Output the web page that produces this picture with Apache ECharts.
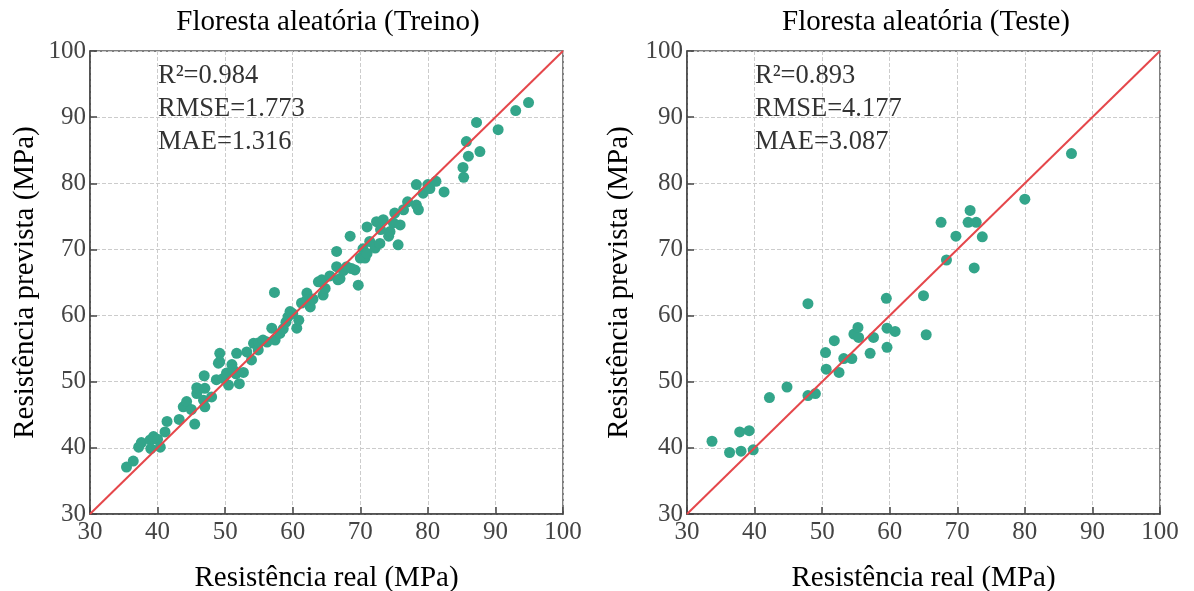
<!DOCTYPE html>
<html>
<head>
<meta charset="utf-8">
<script src="https://cdn.jsdelivr.net/npm/echarts@6/dist/echarts.min.js"></script>
<style>
  html, body { margin: 0; padding: 0; background: #fff; }
  #chart { width: 1194px; height: 591px; }
</style>
</head>
<body>
<div id="chart"></div>
<script>
// 数据：训练集 [real, predicted]
const trainData = [
  [35.4, 37.1], [36.4, 38.0], [37.2, 40.1], [37.6, 40.8], [38.9, 41.2], [39.4, 41.7],
  [40.0, 41.3], [40.4, 40.1], [39.0, 39.9], [41.1, 42.4], [41.4, 44.0], [43.2, 44.3],
  [43.8, 46.2], [44.3, 47.0], [45.0, 45.8], [45.5, 43.6], [45.8, 48.2], [45.8, 49.1],
  [46.8, 47.2], [47.0, 46.2], [47.0, 49.0], [46.9, 50.9], [48.0, 47.7], [48.7, 50.3],
  [49.0, 52.8], [49.7, 50.5], [50.2, 51.3], [50.5, 49.5], [51.0, 52.6], [51.2, 51.8],
  [51.6, 51.2], [52.1, 49.7], [52.7, 51.4], [53.9, 53.3], [49.2, 54.3], [49.2, 53.0],
  [51.7, 54.3], [53.2, 54.5], [54.2, 55.8], [54.9, 54.8], [55.0, 55.9], [55.6, 56.3],
  [56.2, 56.0], [56.9, 58.1], [57.4, 56.3], [58.1, 57.3], [57.3, 63.5], [58.6, 58.0],
  [59.0, 59.0], [59.3, 59.8], [59.6, 60.6], [60.0, 60.3], [60.6, 58.1], [60.9, 59.3],
  [61.3, 61.9], [62.6, 61.3], [62.1, 63.4], [62.1, 62.4], [63.0, 62.5], [63.8, 65.1],
  [64.3, 65.4], [64.5, 63.1], [64.8, 64.1], [65.5, 66.0], [66.5, 67.4], [66.5, 69.7],
  [66.7, 65.4], [67.0, 65.6], [67.5, 66.8], [68.0, 67.4], [68.5, 72.0], [68.7, 67.1],
  [69.2, 66.9], [69.7, 64.6], [70.0, 68.7], [70.4, 70.1], [70.7, 68.7], [71.0, 69.4],
  [71.0, 73.4], [71.4, 71.2], [72.2, 70.2], [72.4, 74.2], [72.9, 70.9], [73.0, 73.0],
  [73.4, 74.5], [74.2, 72.0], [74.4, 72.7], [74.9, 74.0], [75.1, 75.5], [75.6, 70.7],
  [75.9, 73.7], [76.4, 76.0], [77.0, 77.2], [78.3, 76.7], [78.6, 76.0], [78.3, 79.8],
  [79.3, 78.5], [80.0, 79.8], [80.3, 79.2], [81.2, 80.3], [82.4, 78.7], [85.3, 80.9],
  [85.2, 82.4], [86.0, 84.1], [85.7, 86.3], [87.7, 84.8], [87.2, 89.2], [90.4, 88.1],
  [93.0, 91.0], [94.9, 92.2]
]
// 测试集
const testData = [
  [33.7, 41.0], [36.3, 39.3], [38.0, 39.5], [37.8, 42.4], [39.2, 42.6], [39.8, 39.7],
  [42.2, 47.6], [44.8, 49.2], [47.9, 47.9], [49.0, 48.2], [50.6, 51.9], [52.5, 51.4],
  [53.2, 53.5], [54.4, 53.5], [50.5, 54.4], [51.8, 56.2], [47.9, 61.8], [54.7, 57.2],
  [55.3, 58.2], [55.4, 56.7], [57.1, 54.3], [57.6, 56.7], [59.6, 58.1], [60.8, 57.6],
  [59.6, 55.2], [59.5, 62.6], [65.0, 63.0], [65.4, 57.1], [68.4, 68.4], [67.6, 74.1],
  [69.8, 72.0], [71.6, 74.1], [71.9, 75.9], [72.8, 74.1], [72.5, 67.2], [73.7, 71.9],
  [80.0, 77.6], [86.9, 84.5]
]
const lineRange = [30, 100]
const titles = ['Floresta aleatória (Treino)', 'Floresta aleatória (Teste)']
const trainMetrics = ['R²=0.984', 'RMSE=1.773', 'MAE=1.316']
const testMetrics = ['R²=0.893', 'RMSE=4.177', 'MAE=3.087']
const xName = 'Resistência real (MPa)'
const yName = 'Resistência prevista (MPa)'

const FONT = '"Liberation Serif", "DejaVu Serif", serif'
const pointColor = '#33a58a'
const lineColor = '#e5474b'

const grids = [
  { left: 90, top: 51, width: 473, height: 463 },
  { left: 687, top: 51, width: 473, height: 463 }
]

function makeAxis(i, isY) {
  return {
    type: 'value',
    gridIndex: i,
    min: lineRange[0],
    max: lineRange[1],
    interval: 10,
    name: isY ? yName : xName,
    nameLocation: 'middle',
    nameGap: isY ? (i === 0 ? 50 : 53) : 50,
    nameMoveOverlap: false,
    nameTextStyle: { fontFamily: FONT, fontSize: 29, color: '#000' },
    axisLine: { show: true, lineStyle: { color: '#444', width: 1.5 } },
    axisTick: { show: true, inside: true, length: 7, lineStyle: { color: '#444', width: 1.5 } },
    axisLabel: { fontFamily: FONT, fontSize: 25, color: '#444', margin: isY ? 4 : 6 },
    splitLine: { show: true, lineStyle: { color: '#cccccc', type: 'dashed', width: 1 } }
  }
}

const chart = echarts.init(document.getElementById('chart'))
const option = {
  animation: false,
  backgroundColor: '#fff',
  title: [
    { text: titles[0], left: 323, top: 3, textAlign: 'center',
      textStyle: { fontFamily: FONT, fontSize: 29, fontWeight: 'normal', color: '#000' } },
    { text: titles[1], left: 921, top: 3, textAlign: 'center',
      textStyle: { fontFamily: FONT, fontSize: 29, fontWeight: 'normal', color: '#000' } },
    { text: trainMetrics.join('\n'), left: 153, top: 55,
      textStyle: { fontFamily: FONT, fontSize: 26.5, fontWeight: 'normal', color: '#333', lineHeight: 33 } },
    { text: testMetrics.join('\n'), left: 750, top: 55,
      textStyle: { fontFamily: FONT, fontSize: 26.5, fontWeight: 'normal', color: '#333', lineHeight: 33 } }
  ],
  grid: grids.map(g => Object.assign({
    show: true, borderColor: '#555', borderWidth: 1.5, backgroundColor: 'transparent',
    containLabel: false, outerBoundsMode: 'none'
  }, g)),
  xAxis: [makeAxis(0, false), makeAxis(1, false)],
  yAxis: [makeAxis(0, true), makeAxis(1, true)],
  series: [
    { type: 'scatter', xAxisIndex: 0, yAxisIndex: 0, data: trainData, symbolSize: 11,
      itemStyle: { color: pointColor, opacity: 1 }, z: 2 },
    { type: 'line', xAxisIndex: 0, yAxisIndex: 0, data: [[lineRange[0], lineRange[0]], [lineRange[1], lineRange[1]]],
      showSymbol: false, lineStyle: { color: lineColor, width: 2 }, z: 3 },
    { type: 'scatter', xAxisIndex: 1, yAxisIndex: 1, data: testData, symbolSize: 11,
      itemStyle: { color: pointColor, opacity: 1 }, z: 2 },
    { type: 'line', xAxisIndex: 1, yAxisIndex: 1, data: [[lineRange[0], lineRange[0]], [lineRange[1], lineRange[1]]],
      showSymbol: false, lineStyle: { color: lineColor, width: 2 }, z: 3 }
  ]
}
chart.setOption(option)
window.addEventListener('resize', function () {
  chart.resize()
})
</script>
</body>
</html>
